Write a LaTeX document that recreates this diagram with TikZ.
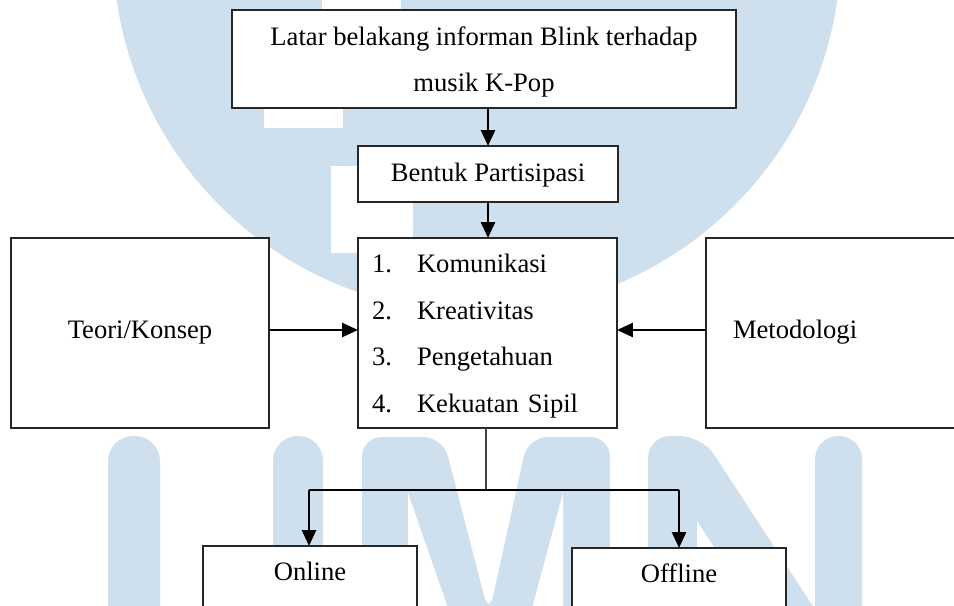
\documentclass[tikz,border=0pt]{standalone}
\usepackage{fontspec}
\setmainfont{Liberation Serif}
\usetikzlibrary{arrows.meta}
\definecolor{wmblue}{RGB}{206,223,237}
\tikzset{
  box/.style={draw=black!85, fill=white, line width=0.6pt, inner sep=0pt, outer sep=0pt,
              font=\fontsize{12}{14}\selectfont},
  arr/.style={line width=1.2pt, -{Triangle[length=7.2pt,width=6.3pt]}},
  thinln/.style={line width=0.5pt, draw=black!75},
  hln/.style={line width=0.75pt},
}
\begin{document}
\begin{tikzpicture}[x=0.451pt,y=-0.451pt]
\useasboundingbox (0,0) rectangle (954,605);
\clip (0,0) rectangle (954,605);
% ---- watermark ----
\fill[wmblue] (477,-52) circle[radius=164.16pt];
\fill[white] (322,-5) rectangle (401,30);
\fill[white] (264,90) rectangle (343,128);
\fill[white] (331,166) rectangle (413,253);
% U
\fill[wmblue, rounded corners=11.4pt] (108,720) -- (108,436) -- (160,436) -- (160,720) -- cycle;
\fill[wmblue, rounded corners=11.1pt] (273,720) -- (273,436) -- (323,436) -- (323,720) -- cycle;
% M
\fill[wmblue, rounded corners=9pt] (362,720) -- (362,437) -- (443,437) -- (489,615) -- (528,437) -- (610,437) -- (610,720) -- cycle;
\fill[white] (408,493) -- (408,720) -- (487,720) -- cycle;
\fill[white] (563,493) -- (563,720) -- (502,720) -- cycle;
% N
\fill[wmblue, rounded corners=10pt] (648,720) -- (648,436) -- (702,436) -- (887,720) -- cycle;
\fill[white] (697,521) -- (697,720) -- (826,720) -- cycle;
\fill[wmblue, rounded corners=10.5pt] (815,720) -- (815,436) -- (862,436) -- (862,720) -- cycle;
% ---- boxes ----
\node[box, minimum width=227.3pt, minimum height=44.2pt, font=\fontsize{12}{20.75}\selectfont] (top) at (484,59)
  {\begin{tabular}{@{}c@{}}Latar belakang informan Blink terhadap\\ musik K-Pop\end{tabular}};
\node[box, minimum width=117.26pt, text height=15.79pt, text depth=9.47pt] (bentuk) at (488,174) {Bentuk Partisipasi};
\node[box, minimum width=116.81pt, minimum height=85.69pt, text width=104.18pt, inner xsep=6.31pt, align=left,
      font=\fontsize{12}{21.05}\selectfont] (mid) at (487.5,333)
  {\noindent\begin{tabular}{@{}p{20.3pt}@{}l@{}}1. & Komunikasi\\ 2. & Kreativitas\\ 3. & Pengetahuan\\ 4. & Kekuatan Sipil\end{tabular}};
\node[box, minimum width=116.36pt, text height=45.1pt, text depth=40.59pt] (teori) at (140,333) {Teori/Konsep};
\node[box, minimum width=116.36pt, text width=92pt, inner xsep=12.18pt, align=left,
      text height=45.1pt, text depth=40.59pt] (metod) at (835,333) {Metodologi};
\node[box, minimum width=96.51pt, text height=15.33pt, text depth=36.08pt] (online) at (310,603) {Online};
\node[box, minimum width=96.51pt, text height=15.33pt, text depth=35.18pt] (offline) at (679,604) {Offline};
% ---- connectors ----
\draw[arr] (bentuk.north |- top.south) -- (bentuk.north);
\draw[arr] (bentuk.south) -- (bentuk.south |- mid.north);
\draw[arr] ([yshift=1.35pt]teori.east) -- ([yshift=1.35pt]mid.west);
\draw[arr] ([yshift=1.35pt]metod.west) -- ([yshift=1.35pt]mid.east);
\coordinate (jm) at (486,490);
\coordinate (jl) at (309,490);
\coordinate (jr) at (679,490);
\draw[thinln] (jm |- mid.south) -- (jm);
\draw[hln] (jl) -- (jr);
\draw[arr] (jl) -- (jl |- online.north);
\draw[arr] (jr) -- (jr |- offline.north);
\end{tikzpicture}
\end{document}
